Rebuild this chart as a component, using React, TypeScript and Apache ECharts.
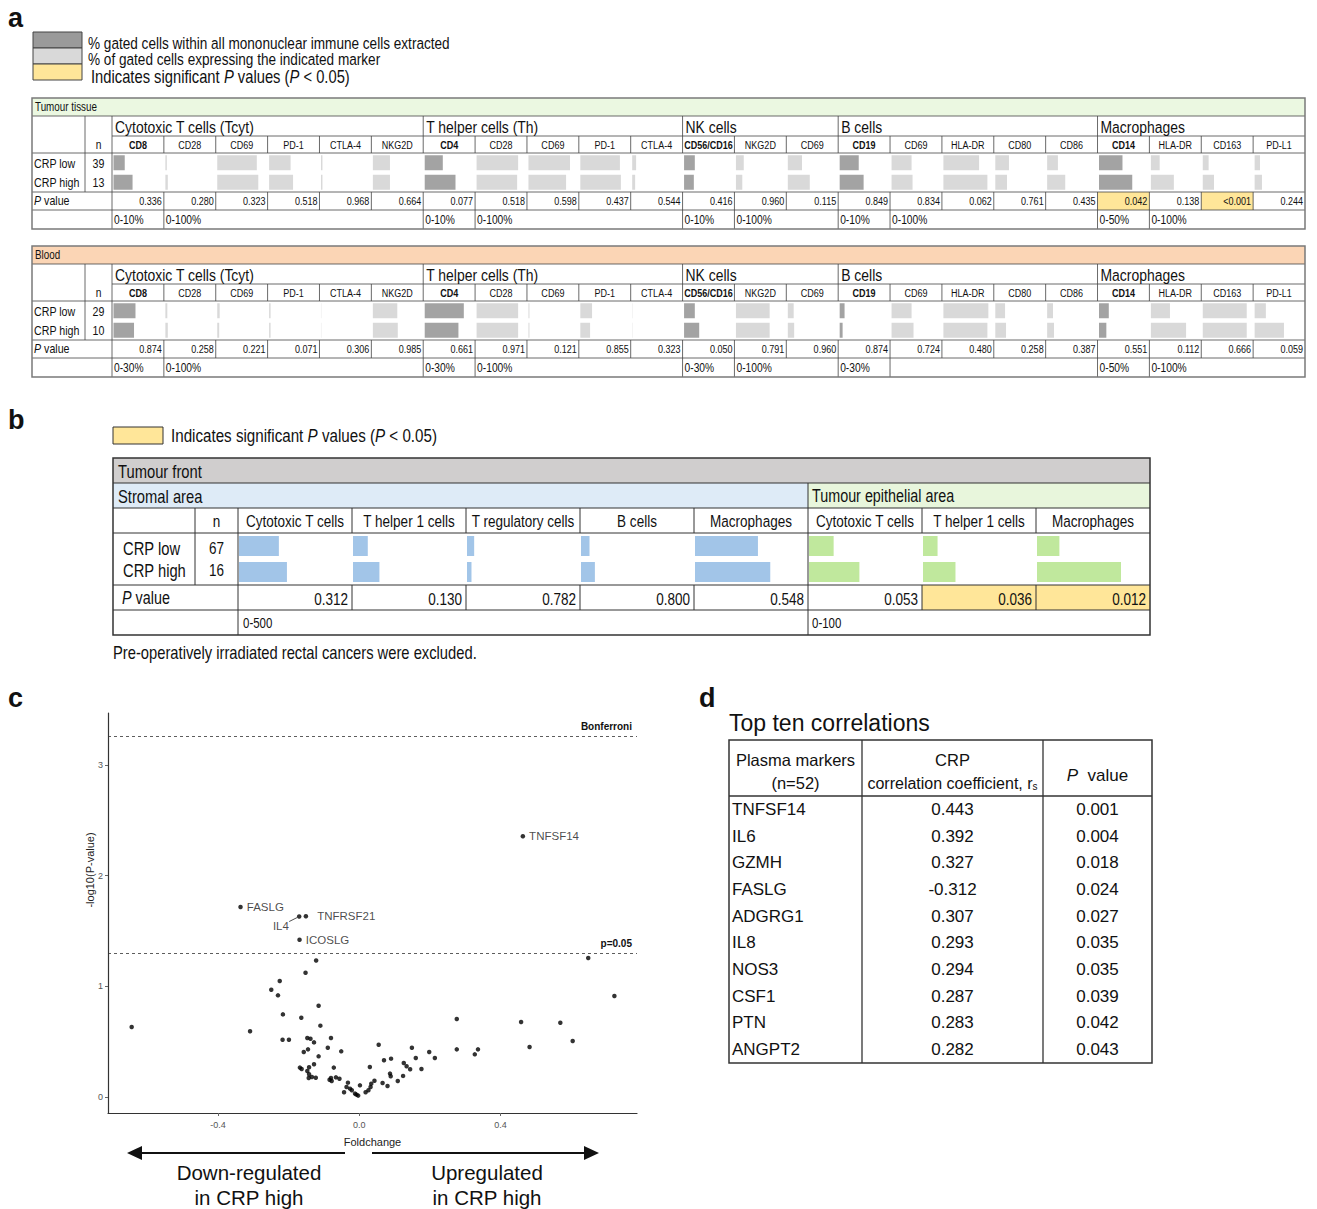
import React, { useEffect, useRef } from "react";
import * as echarts from "echarts";

const FONT = "'Liberation Sans', Arial, Helvetica, sans-serif";
const NAR = 0.82;
const YELLOW = "#ffe699";
const DARK = "#a3a3a3";
const LIGHT = "#d9d9d9";

// ---------- Panel a data ----------
const groupNames = ["Cytotoxic T cells (Tcyt)", "T helper cells (Th)", "NK cells", "B cells", "Macrophages"];
const groupSizes = [6, 5, 3, 5, 4];
const markers = ["CD8", "CD28", "CD69", "PD-1", "CTLA-4", "NKG2D", "CD4", "CD28", "CD69", "PD-1", "CTLA-4", "CD56/CD16", "NKG2D", "CD69", "CD19", "CD69", "HLA-DR", "CD80", "CD86", "CD14", "HLA-DR", "CD163", "PD-L1"];
const rowLabels = ["CRP low", "CRP high"];

const tissueN = [39, 13];
const tissueLow = [2.3, 3, 81, 44, 3, 35, 3.7, 85, 85, 81, 8, 2.2, 16, 29, 3.9, 41, 73, 28, 22, 24, 18, 12, 11];
const tissueHigh = [3.9, 5, 84, 49, 3, 35, 6.3, 83, 77, 83, 6, 2.0, 13, 45, 4.9, 43, 90, 24, 37, 34, 47, 23, 15];
const tissueP = ["0.336", "0.280", "0.323", "0.518", "0.968", "0.664", "0.077", "0.518", "0.598", "0.437", "0.544", "0.416", "0.960", "0.115", "0.849", "0.834", "0.062", "0.761", "0.435", "0.042", "0.138", "<0.001", "0.244"];
const tissueSig = [19, 21];
const tissueMax = [10, 100, 100, 100, 100, 100, 10, 100, 100, 100, 100, 10, 100, 100, 10, 100, 100, 100, 100, 50, 100, 100, 100];
const tissueScaleStarts = [0, 1, 6, 7, 11, 12, 14, 15, 19, 20];
const tissueScaleTexts = ["0-10%", "0-100%", "0-10%", "0-100%", "0-10%", "0-100%", "0-10%", "0-100%", "0-50%", "0-100%"];

const bloodN = [29, 10];
const bloodLow = [13.5, 4, 5, 3, 0.6, 50, 24, 85, 2, 24, 0.6, 6.6, 69, 12, 3, 41, 92, 20, 12, 10, 39, 90, 23];
const bloodHigh = [12.6, 5, 4, 3, 0.6, 51, 20.7, 85, 2, 20, 0.6, 9.3, 69, 13, 1.8, 45, 90, 22, 14, 7.5, 72, 90, 60];
const bloodP = ["0.874", "0.258", "0.221", "0.071", "0.306", "0.985", "0.661", "0.971", "0.121", "0.855", "0.323", "0.050", "0.791", "0.960", "0.874", "0.724", "0.480", "0.258", "0.387", "0.551", "0.112", "0.666", "0.059"];
const bloodSig: number[] = [];
const bloodMax = [30, 100, 100, 100, 100, 100, 30, 100, 100, 100, 100, 30, 100, 100, 30, 100, 100, 100, 100, 50, 100, 100, 100];
const bloodScaleStarts = [0, 1, 6, 7, 11, 12, 14, 15, 19, 20];
const bloodScaleTexts = ["0-30%", "0-100%", "0-30%", "0-100%", "0-30%", "0-100%", "0-30%", "", "0-50%", "0-100%"];

// ---------- Panel b data ----------
const bCols = ["Cytotoxic T cells", "T helper 1 cells", "T regulatory cells", "B cells", "Macrophages", "Cytotoxic T cells", "T helper 1 cells", "Macrophages"];
const bN = [67, 16];
const bLow = [178, 66, 32, 38, 281, 22, 13, 20];
const bHigh = [214, 118, 20, 62, 336, 45, 29, 75];
const bP = ["0.312", "0.130", "0.782", "0.800", "0.548", "0.053", "0.036", "0.012"];
const bSig = [6, 7];
const bMax = [500, 500, 500, 500, 500, 100, 100, 100];

// ---------- Panel c data ----------
const labelled = [
  { name: "TNFSF14", x: 0.463, y: 2.355 },
  { name: "FASLG", x: -0.336, y: 1.716 },
  { name: "IL4", x: -0.17, y: 1.63 },
  { name: "TNFRSF21", x: -0.151, y: 1.632 },
  { name: "ICOSLG", x: -0.169, y: 1.42 },
];
const otherPoints = [
  [-0.644, 0.632], [-0.309, 0.593], [-0.122, 1.233], [-0.152, 1.122], [-0.225, 1.047], [-0.249, 0.969], [-0.23, 0.918], [-0.115, 0.824],
  [-0.216, 0.746], [-0.164, 0.716], [-0.11, 0.644], [-0.217, 0.517], [-0.199, 0.517], [-0.147, 0.532], [-0.138, 0.526], [-0.128, 0.493],
  [-0.08, 0.532], [-0.089, 0.445], [-0.051, 0.412], [-0.145, 0.43], [-0.157, 0.406], [-0.115, 0.367], [-0.128, 0.295], [-0.168, 0.265],
  [-0.163, 0.253], [-0.142, 0.268], [-0.147, 0.235], [-0.142, 0.205], [-0.143, 0.171], [-0.123, 0.174], [-0.134, 0.18], [-0.072, 0.265],
  [-0.084, 0.156], [-0.078, 0.144], [-0.066, 0.177], [-0.056, 0.165], [-0.08, 0.171], [-0.032, 0.129], [-0.043, 0.042], [-0.036, 0.09],
  [-0.026, 0.075], [-0.021, 0.06], [-0.012, 0.03], [-0.003, 0.012], [0.002, 0.105], [-0.008, 0.021], [0.055, 0.472], [0.03, 0.271],
  [0.043, 0.147], [0.07, 0.331], [0.09, 0.346], [0.066, 0.126], [0.08, 0.099], [0.087, 0.211], [0.089, 0.187], [0.109, 0.144],
  [0.018, 0.042], [0.026, 0.06], [0.032, 0.09], [0.648, 1.255], [0.722, 0.912], [0.276, 0.704], [0.458, 0.677], [0.569, 0.671],
  [0.604, 0.505], [0.482, 0.451], [0.276, 0.43], [0.336, 0.43], [0.327, 0.385], [0.149, 0.445], [0.198, 0.406], [0.214, 0.352],
  [0.16, 0.352], [0.126, 0.307], [0.134, 0.277], [0.144, 0.25], [0.176, 0.253], [0.124, 0.19], [0.034, 0.12],
];
const xTicks = [-0.4, 0, 0.4];
const yTicks = [0, 1, 2, 3];
const bonferroniLine = 3.26;
const p05Line = 1.301;

// ---------- Panel d data ----------
const dMarkers = ["TNFSF14", "IL6", "GZMH", "FASLG", "ADGRG1", "IL8", "NOS3", "CSF1", "PTN", "ANGPT2"];
const dCoef = ["0.443", "0.392", "0.327", "-0.312", "0.307", "0.293", "0.294", "0.287", "0.283", "0.282"];
const dP = ["0.001", "0.004", "0.018", "0.024", "0.027", "0.035", "0.035", "0.039", "0.042", "0.043"];

// ---------- helpers ----------
function T(x: number, y: number, text: string, size: number, o: any = {}) {
  const style: any = {
    text, fontSize: size, fontFamily: FONT, fontWeight: o.bold ? "bold" : "normal",
    fill: o.color || "#111", align: o.align || "left", textAlign: o.align || "left",
    verticalAlign: "middle", textVerticalAlign: "middle",
  };
  if (o.rich) style.rich = o.rich;
  return { type: "text", x, y, scaleX: o.sx ?? 1, rotation: o.rot ?? 0, z: 20, silent: true, style };
}
function L(x1: number, y1: number, x2: number, y2: number, color = "#444", w = 0.8) {
  return { type: "line", z: 15, silent: true, shape: { x1, y1, x2, y2 }, style: { stroke: color, lineWidth: w } };
}
function R(x: number, y: number, w: number, h: number, fill: string, stroke?: string, lw = 1) {
  const style: any = { fill };
  if (stroke) { style.stroke = stroke; style.lineWidth = lw; }
  return { type: "rect", z: 1, silent: true, shape: { x, y, width: w, height: h }, style };
}
const italicP = (size: number) => ({ i: { fontStyle: "italic", fontSize: size, fontFamily: FONT, fill: "#111" } });

function buildOption() {
  const grid: any[] = [];
  const xAxis: any[] = [];
  const yAxis: any[] = [];
  const series: any[] = [];
  const g: any[] = [];

  const addBarCell = (left: number, top: number, width: number, height: number, max: number, low: number, high: number, color: string, bw: number) => {
    const k = grid.length;
    grid.push({ left, top, width, height, show: false });
    xAxis.push({ type: "value", gridIndex: k, min: 0, max, show: false });
    yAxis.push({ type: "category", gridIndex: k, data: rowLabels, inverse: true, show: false });
    series.push({ type: "bar", xAxisIndex: k, yAxisIndex: k, data: [low, high], barWidth: bw, silent: true, itemStyle: { color } });
  };

  // ---------- Panel c scatter (grid 0) ----------
  grid.push({ left: 108, top: 713, width: 529, height: 400, show: false });
  xAxis.push({
    type: "value", gridIndex: 0, min: -0.711, max: 0.786,
    axisLine: { show: true, onZero: false, lineStyle: { color: "#333", width: 1.2 } },
    axisTick: { show: true, customValues: xTicks, length: 3, lineStyle: { color: "#666" } },
    axisLabel: { customValues: xTicks, formatter: (v: number) => v.toFixed(1), color: "#555", fontSize: 9, margin: 7, fontFamily: FONT },
    splitLine: { show: false },
    name: "Foldchange", nameLocation: "middle", nameGap: 23, nameTextStyle: { fontSize: 11, color: "#222", fontFamily: FONT },
  });
  yAxis.push({
    type: "value", gridIndex: 0, min: -0.145, max: 3.469,
    axisLine: { show: true, onZero: false, lineStyle: { color: "#333", width: 1.2 } },
    axisTick: { show: true, customValues: yTicks, length: 3, lineStyle: { color: "#666" } },
    axisLabel: { customValues: yTicks, formatter: (v: number) => String(v), color: "#555", fontSize: 9, margin: 5, fontFamily: FONT },
    splitLine: { show: false },
  });
  const scatterData: any[] = otherPoints.map((p) => ({ value: p }));
  labelled.forEach((p) => {
    const lab: any = { show: true, formatter: p.name, color: "#1a1a1a", fontSize: 11.5, fontFamily: FONT, position: "right", distance: 4 };
    if (p.name === "TNFRSF21") lab.distance = 9;
    if (p.name === "IL4") { lab.position = "left"; lab.distance = 8; lab.offset = [0, 9]; }
    scatterData.push({ value: [p.x, p.y], name: p.name, label: lab });
  });
  series.push({
    type: "scatter", xAxisIndex: 0, yAxisIndex: 0, symbolSize: 4.5, silent: true,
    itemStyle: { color: "#000" }, data: scatterData,
    markLine: {
      silent: true, symbol: "none", animation: false,
      lineStyle: { type: [3, 3], color: "#333", width: 0.8 },
      data: [
        { yAxis: bonferroniLine, label: { formatter: "Bonferroni", position: "insideEndTop", fontWeight: "bold", fontSize: 10, color: "#111", fontFamily: FONT } },
        { yAxis: p05Line, label: { formatter: "p=0.05", position: "insideEndTop", fontWeight: "bold", fontSize: 10, color: "#111", fontFamily: FONT } },
      ],
    },
  });
  g.push(T(90, 870, "-log10(P-value)", 11, { align: "center", rot: Math.PI / 2, color: "#222" }));

  // ---------- Panel letters ----------
  g.push(T(8, 18, "a", 27, { bold: true }));
  g.push(T(8, 420, "b", 27, { bold: true }));
  g.push(T(8, 698, "c", 27, { bold: true }));
  g.push(T(699, 698, "d", 27, { bold: true }));

  // ---------- Panel a legend ----------
  g.push(R(33, 32, 49, 16, "#9a9a9a", "#444", 1));
  g.push(R(33, 48, 49, 16, LIGHT, "#444", 1));
  g.push(R(33, 64, 49, 16, YELLOW, "#444", 1));
  g.push(T(88, 43, "% gated cells within all mononuclear immune cells extracted", 17, { sx: 0.8 }));
  g.push(T(88, 59, "% of gated cells expressing the indicated marker", 17, { sx: 0.8 }));
  g.push(T(91, 76, "Indicates significant {i|P} values ({i|P} < 0.05)", 18, { sx: NAR, rich: italicP(18) }));

  // ---------- Panel a tables ----------
  const gatedIdx: number[] = [];
  const groupStart: number[] = [];
  let acc = 0;
  groupSizes.forEach((s) => { gatedIdx.push(acc); groupStart.push(acc); acc += s; });

  const tableA = (T0: number, title: string, bg: string, n: number[], low: number[], high: number[], pv: string[], sig: number[], smax: number[], sStarts: number[], sTexts: string[]) => {
    const X0 = 32, X1 = 1305, XL = 85, XN = 112;
    const cw = (X1 - XN) / markers.length;
    const cx = (i: number) => XN + i * cw;
    const yH = T0 + 18, yG = T0 + 38, yM = T0 + 55, yB = T0 + 94, yP = T0 + 112, yE = T0 + 131;
    g.push(R(X0, T0, X1 - X0, 18, bg));
    sig.forEach((i) => g.push(R(cx(i), yB, cw, yP - yB, YELLOW)));
    g.push(L(X0, yH, X1, yH));
    g.push(L(XN, yG, X1, yG));
    g.push(L(X0, yM, X1, yM));
    g.push(L(X0, yB, X1, yB));
    g.push(L(X0, yP, X1, yP));
    g.push(L(XL, yH, XL, yB));
    g.push(L(XN, yH, XN, yE));
    groupStart.forEach((s) => { if (s > 0) g.push(L(cx(s), yH, cx(s), yG)); });
    for (let i = 1; i < markers.length; i++) {
      g.push(L(cx(i), yG, cx(i), yM));
      g.push(L(cx(i), yB, cx(i), yP));
    }
    sStarts.forEach((s) => { if (s > 0) g.push(L(cx(s), yP, cx(s), yE)); });
    g.push({ type: "rect", z: 16, silent: true, shape: { x: X0, y: T0, width: X1 - X0, height: yE - T0 }, style: { fill: "none", stroke: "#7a7a7a", lineWidth: 1.5 } });
    g.push(T(35, T0 + 9, title, 12, { sx: NAR }));
    groupNames.forEach((nm, gi) => g.push(T(cx(groupStart[gi]) + 3, yH + 10.5, nm, 17, { sx: NAR })));
    g.push(T((XL + XN) / 2, yG + 9, "n", 12.5, { align: "center", sx: NAR }));
    markers.forEach((m, i) => g.push(T(cx(i) + cw / 2, yG + 9, m, 11, { align: "center", sx: NAR, bold: gatedIdx.includes(i) })));
    rowLabels.forEach((r, ri) => {
      const yy = yM + 10.5 + ri * 19;
      g.push(T(34, yy, r, 13, { sx: NAR }));
      g.push(T((XL + XN) / 2, yy, String(n[ri]), 13, { align: "center", sx: NAR }));
    });
    g.push(T(34, yB + 9, "{i|P} value", 13, { sx: NAR, rich: italicP(13) }));
    pv.forEach((p, i) => g.push(T(cx(i + 1) - 2, yB + 9.5, p, 11, { align: "right", sx: NAR })));
    sStarts.forEach((s, k) => { if (sTexts[k]) g.push(T(cx(s) + 2, yP + 10, sTexts[k], 12.5, { sx: NAR })); });
    markers.forEach((_, i) => {
      addBarCell(cx(i) + 1.5, yM, cw - 3, yB - yM, smax[i], low[i], high[i], gatedIdx.includes(i) ? DARK : LIGHT, 15);
    });
  };
  tableA(98, "Tumour tissue", "#ebf8e1", tissueN, tissueLow, tissueHigh, tissueP, tissueSig, tissueMax, tissueScaleStarts, tissueScaleTexts);
  tableA(246, "Blood", "#fbd5b5", bloodN, bloodLow, bloodHigh, bloodP, bloodSig, bloodMax, bloodScaleStarts, bloodScaleTexts);

  // ---------- Panel b ----------
  g.push(R(113, 427, 50, 17, YELLOW, "#333", 1));
  g.push(T(171, 436, "Indicates significant {i|P} values ({i|P} < 0.05)", 18.5, { sx: NAR, rich: italicP(18.5) }));
  {
    const X0 = 113, X1 = 1150, XL = 195, XN = 238, cw = 114, XE = 808;
    const bx = (i: number) => XN + i * cw;
    const y0 = 458, y1 = 483, y2 = 508, y3 = 533, y4 = 585, y5 = 610, y6 = 635;
    g.push(R(X0, y0, X1 - X0, y1 - y0, "#d0cece"));
    g.push(R(X0, y1, XE - X0, y2 - y1, "#deebf7"));
    g.push(R(XE, y1, X1 - XE, y2 - y1, "#e8f6dc"));
    bSig.forEach((i) => g.push(R(bx(i), y4, cw, y5 - y4, YELLOW)));
    [y1, y2, y3, y4, y5].forEach((yy) => g.push(L(X0, yy, X1, yy, "#333", 1)));
    g.push(L(XE, y1, XE, y6, "#333", 1));
    g.push(L(XL, y2, XL, y4, "#333", 1));
    g.push(L(XN, y2, XN, y6, "#333", 1));
    for (let i = 1; i < bCols.length; i++) {
      if (bx(i) === XE) continue;
      g.push(L(bx(i), y2, bx(i), y3, "#333", 1));
      g.push(L(bx(i), y4, bx(i), y5, "#333", 1));
    }
    g.push({ type: "rect", z: 16, silent: true, shape: { x: X0, y: y0, width: X1 - X0, height: y6 - y0 }, style: { fill: "none", stroke: "#333", lineWidth: 1.5 } });
    g.push(T(118, 471, "Tumour front", 18, { sx: NAR }));
    g.push(T(118, 496, "Stromal area", 18, { sx: NAR }));
    g.push(T(812, 496, "Tumour epithelial area", 17.5, { sx: NAR }));
    g.push(T((XL + XN) / 2, 521, "n", 16.5, { align: "center", sx: NAR }));
    bCols.forEach((c, i) => g.push(T(bx(i) + cw / 2, 521, c, 16.5, { align: "center", sx: NAR })));
    rowLabels.forEach((r, ri) => {
      const yy = 548 + ri * 22;
      g.push(T(123, yy, r, 18, { sx: NAR }));
      g.push(T((XL + XN) / 2, yy, String(bN[ri]), 16.5, { align: "center", sx: NAR }));
    });
    g.push(T(122, 598, "{i|P} value", 17.5, { sx: NAR, rich: italicP(17.5) }));
    bP.forEach((p, i) => g.push(T(bx(i + 1) - 4, 599, p, 16.5, { align: "right", sx: NAR })));
    g.push(T(243, 623, "0-500", 14, { sx: NAR }));
    g.push(T(812, 623, "0-100", 14, { sx: NAR }));
    bCols.forEach((_, i) => {
      addBarCell(bx(i) + 1, y3, cw - 2, y4 - y3, bMax[i], bLow[i], bHigh[i], i < 5 ? "#a2c5e8" : "#c0e89d", 20);
    });
    g.push(T(113, 652, "Pre-operatively irradiated rectal cancers were excluded.", 18, { sx: NAR }));
  }

  // ---------- Panel c arrows and captions ----------
  g.push(L(140, 1153, 345, 1153, "#111", 2));
  g.push({ type: "polygon", z: 15, silent: true, shape: { points: [[127, 1153], [142, 1146], [142, 1160]] }, style: { fill: "#111" } });
  g.push(L(372, 1153, 585, 1153, "#111", 2));
  g.push({ type: "polygon", z: 15, silent: true, shape: { points: [[599, 1153], [584, 1146], [584, 1160]] }, style: { fill: "#111" } });
  g.push(T(249, 1172, "Down-regulated", 20.5, { align: "center" }));
  g.push(T(249, 1197, "in CRP high", 20.5, { align: "center" }));
  g.push(T(487, 1172, "Upregulated", 20.5, { align: "center" }));
  g.push(T(487, 1197, "in CRP high", 20.5, { align: "center" }));

  // ---------- Panel d ----------
  {
    const X0 = 729, X1 = 1152, C1 = 862, C2 = 1043, Y0 = 740, YH = 796, Y1 = 1063;
    const rh = (Y1 - YH) / dMarkers.length;
    g.push(T(729, 723, "Top ten correlations", 23));
    g.push({ type: "rect", z: 16, silent: true, shape: { x: X0, y: Y0, width: X1 - X0, height: Y1 - Y0 }, style: { fill: "none", stroke: "#333", lineWidth: 1.5 } });
    g.push(L(X0, YH, X1, YH, "#333", 1.3));
    g.push(L(C1, Y0, C1, Y1, "#333", 1.3));
    g.push(L(C2, Y0, C2, Y1, "#333", 1.3));
    g.push(T((X0 + C1) / 2, 760, "Plasma markers", 16.5, { align: "center" }));
    g.push(T((X0 + C1) / 2, 783, "(n=52)", 16.5, { align: "center" }));
    g.push(T((C1 + C2) / 2, 760, "CRP", 16.5, { align: "center" }));
    g.push(T((C1 + C2) / 2, 783, "correlation coefficient, r{s|s}", 16, { align: "center", rich: { s: { fontSize: 10, fontFamily: FONT, fill: "#111", padding: [7, 0, 0, 0] } } }));
    g.push(T((C2 + X1) / 2, 775, "{i|P}  value", 17, { align: "center", rich: italicP(17) }));
    dMarkers.forEach((m, i) => {
      const yy = YH + rh * (i + 0.5);
      g.push(T(732, yy, m, 17));
      g.push(T((C1 + C2) / 2, yy, dCoef[i], 17, { align: "center" }));
      g.push(T((C2 + X1) / 2, yy, dP[i], 17, { align: "center" }));
    });
  }

  return {
    animation: false,
    backgroundColor: "#ffffff",
    grid, xAxis, yAxis, series,
    graphic: { elements: g },
  };
}

export default function App() {
  const ref = useRef<HTMLDivElement>(null);
  useEffect(() => {
    const el = ref.current!;
    const chart = echarts.init(el, null, { renderer: "svg", width: 1317, height: 1209 });
    const opt: any = buildOption();
    chart.setOption(opt);
    const il4 = labelled.find((p) => p.name === "IL4")!;
    const px = chart.convertToPixel({ xAxisIndex: 0, yAxisIndex: 0 }, [il4.x, il4.y]) as number[];
    if (px && isFinite(px[0])) {
      opt.graphic.elements.push(L(px[0] - 10, px[1] + 5, px[0] - 2, px[1] + 1, "#222", 0.8));
      chart.setOption(opt, true);
    }
    return () => chart.dispose();
  }, []);
  return <div ref={ref} style={{ position: "absolute", left: 0, top: 0, width: 1317, height: 1209, background: "#fff" }} />;
}
